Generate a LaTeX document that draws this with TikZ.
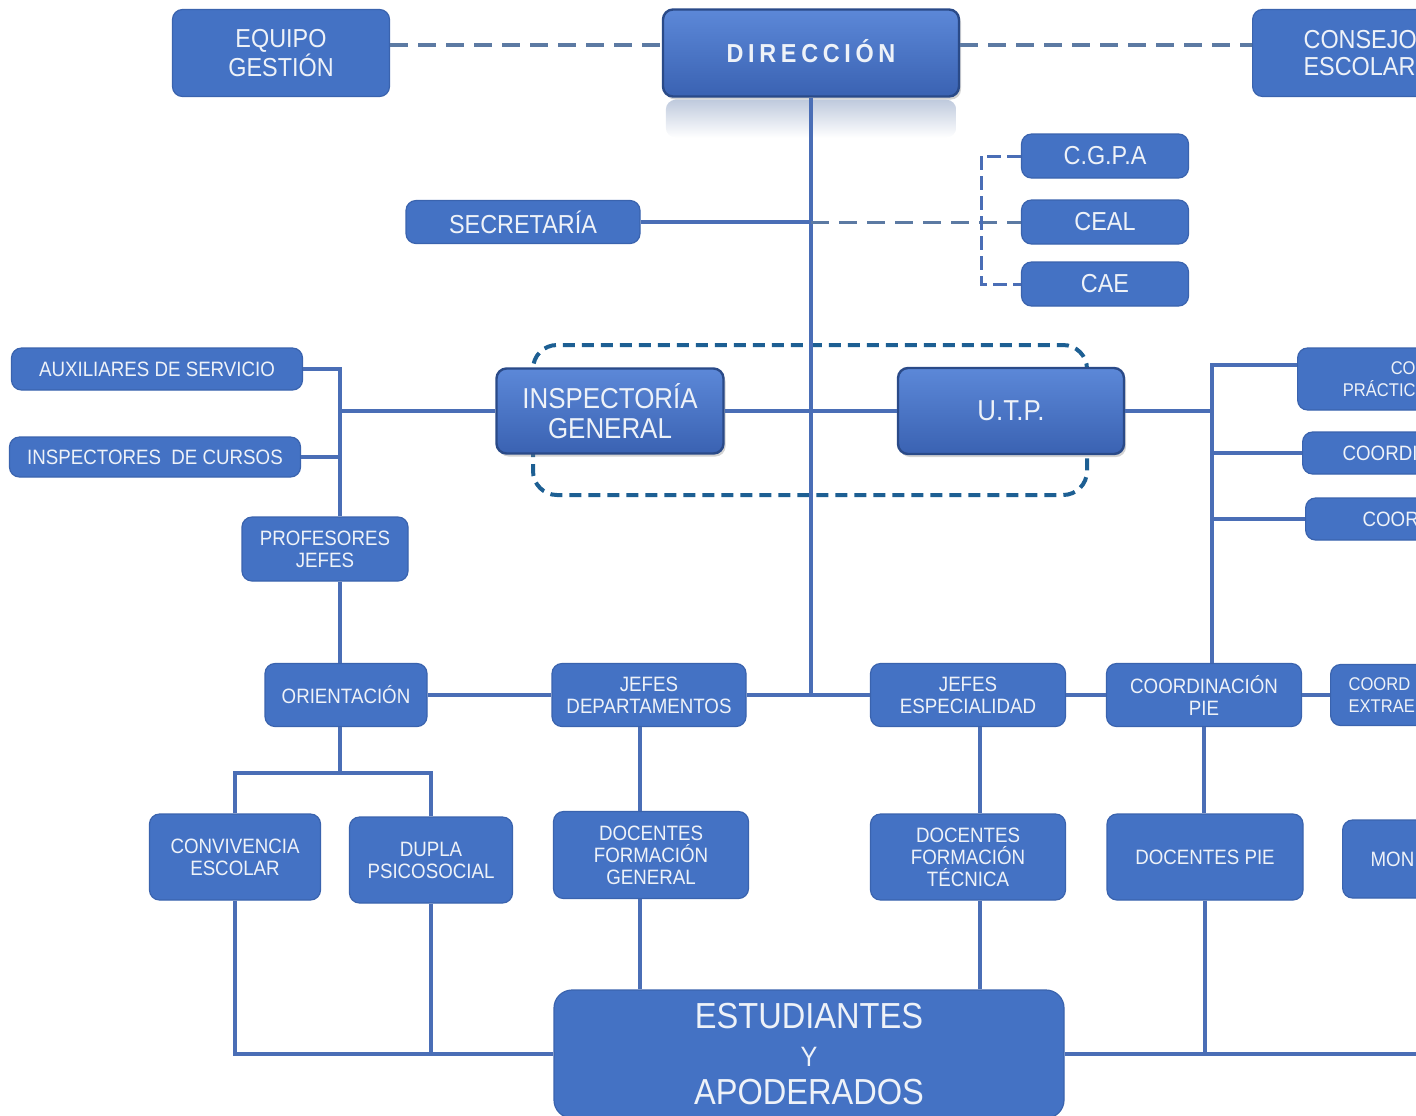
\documentclass[tikz,border=0pt]{standalone}
\usepackage{fontspec}
\setmainfont{Liberation Sans}[FakeStretch=0.9]
\newfontfamily\spacedfont{Liberation Sans}[FakeStretch=0.9,LetterSpace=18]
\usepackage{xcolor}
\usetikzlibrary{positioning,shadows,calc}
\definecolor{boxblue}{HTML}{4472C4}
\definecolor{boxedge}{HTML}{3A63AE}
\definecolor{boxtext}{HTML}{EEF2F8}
\definecolor{raisetop}{HTML}{5C88D8}
\definecolor{raisebot}{HTML}{3A62B2}
\definecolor{raiseedge}{HTML}{2A4A88}
\definecolor{linkblue}{HTML}{4A6EB6}
\definecolor{dashgrey}{HTML}{5C7AA3}
\definecolor{frameblue}{HTML}{1D5F93}
\definecolor{reflect}{HTML}{BFCADD}

\begin{document}
\begin{tikzpicture}[x=.5pt,y=-.5pt,
    box/.style={fill=boxblue, draw=boxedge, line width=.6pt, rounded corners=5pt, text=boxtext, align=center, inner sep=0pt},
    raised/.style={top color=raisetop, bottom color=raisebot, draw=raiseedge, line width=1.2pt,
      drop shadow={shadow xshift=1pt, shadow yshift=-1.5pt, opacity=.35}},
    smalltext/.style={font=\fontsize{10.4}{11}\selectfont},
    bigtext/.style={font=\fontsize{13}{13.5}\selectfont},
    link/.style={draw=linkblue, line width=2pt},
    dashlink/.style={draw=dashgrey, line width=2pt, dash pattern=on 9pt off 5pt},
    bracket/.style={draw=linkblue, line width=1.5pt, dash pattern=on 7pt off 3pt}]
  \useasboundingbox (0,0) rectangle (1416,1115);
  \clip (0,0) rectangle (1416,1115);

  \draw[frameblue, line width=2pt, dash pattern=on 6pt off 3.5pt, rounded corners=12pt] (533,345) rectangle (1087,495);

  \node[box,bigtext,minimum width=108.5pt,minimum height=43.5pt] (equipo) at (281,53) {EQUIPO\\GESTIÓN};
  \node[box,raised,minimum width=148pt,minimum height=43.5pt,font=\spacedfont\bfseries\fontsize{13}{15}\selectfont] (direccion) at (811,53) {\raisebox{2pt}{DIRECCIÓN}};
  \node[box,bigtext,anchor=west,minimum height=43.5pt,text width=80pt,align=left,inner xsep=25.5pt] (consejo) at (1252,53) {CONSEJO\\ESCOLAR};
  \shade[top color=reflect, bottom color=white, rounded corners=5pt] ([xshift=2pt,yshift=-1pt]direccion.south west) rectangle ([xshift=-2pt,yshift=-20pt]direccion.south east);

  \node[box,bigtext,minimum width=117pt,minimum height=21.5pt] (secretaria) at (523,222) {SECRETARÍA};
  \node[box,bigtext,minimum width=83.5pt,minimum height=22pt] (cgpa) at (1105,156) {C.G.P.A};
  \node[box,bigtext,minimum width=83.5pt,minimum height=22pt] (ceal) at (1105,222) {CEAL};
  \node[box,bigtext,minimum width=83.5pt,minimum height=22pt] (cae) at (1105,284) {CAE};

  \node[box,raised,minimum width=113.5pt,minimum height=42.5pt,font=\fontsize{14.4}{15}\selectfont] (inspectoria) at (610,411) {INSPECTORÍA\\GENERAL};
  \node[box,raised,minimum width=113pt,minimum height=43pt,font=\fontsize{14.4}{15}\selectfont] (utp) at (1011,411) {U.T.P.};

  \node[box,smalltext,minimum width=145.5pt,minimum height=21pt] (auxiliares) at (157,369) {AUXILIARES DE SERVICIO};
  \node[box,smalltext,minimum width=145.5pt,minimum height=20pt] (inspectores) at (155,457) {INSPECTORES~~DE CURSOS};
  \node[box,smalltext,minimum width=83pt,minimum height=32pt] (profesores) at (325,549) {PROFESORES\\JEFES};

  \node[box,font=\fontsize{9.2}{11}\selectfont,anchor=west,minimum height=31pt,text width=36.5pt,align=right,inner xsep=22.5pt] (practica) at (1297,379) {CO\\PRÁCTIC};
  \node[box,smalltext,anchor=west,minimum height=21pt,text width=60pt,align=left,inner xsep=20pt] (coordi) at (1302,453) {COORDI};
  \node[box,smalltext,anchor=west,minimum height=21pt,text width=60pt,align=left,inner xsep=28.5pt] (coor) at (1305,519) {COOR};

  \node[box,smalltext,minimum width=81pt,minimum height=31.5pt] (orientacion) at (346,695) {ORIENTACIÓN};
  \node[box,smalltext,minimum width=97pt,minimum height=31.5pt] (jefesdep) at (649,695) {JEFES\\DEPARTAMENTOS};
  \node[box,smalltext,minimum width=97.5pt,minimum height=31.5pt] (jefesesp) at (968,695) {JEFES\\ESPECIALIDAD};
  \node[box,smalltext,minimum width=97.5pt,minimum height=31.5pt] (coordpie) at (1204,695) {COORDINACIÓN\\PIE};
  \node[box,font=\fontsize{9.2}{11}\selectfont,anchor=west,minimum height=30.5pt,text width=80pt,align=left,inner xsep=9pt] (coordextra) at (1330,695) {COORD\\EXTRAE};

  \node[box,smalltext,minimum width=85.5pt,minimum height=43pt] (convivencia) at (235,857) {CONVIVENCIA\\ESCOLAR};
  \node[box,smalltext,minimum width=81.5pt,minimum height=43pt] (dupla) at (431,860) {DUPLA\\PSICOSOCIAL};
  \node[box,smalltext,minimum width=97.5pt,minimum height=43.5pt] (docgen) at (651,855) {DOCENTES\\FORMACIÓN\\GENERAL};
  \node[box,smalltext,minimum width=97.5pt,minimum height=43pt] (doctec) at (968,857) {DOCENTES\\FORMACIÓN\\TÉCNICA};
  \node[box,smalltext,minimum width=98pt,minimum height=43pt] (docpie) at (1205,857) {DOCENTES PIE};
  \node[box,smalltext,anchor=west,minimum height=39pt,text width=60pt,align=left,inner xsep=14pt] (mon) at (1342,859) {MON};

  \node[box,rounded corners=9pt,minimum width=255pt,minimum height=64pt,font=\fontsize{18.1}{18.8}\selectfont] (estudiantes) at (809,1054) {ESTUDIANTES\\{\fontsize{14}{14}\selectfont Y}\\APODERADOS};

  \coordinate (lv) at (340,369);
  \coordinate (rv) at (1212,365);
  \coordinate (ob) at (340,773);
  \coordinate (sj) at (811,222);
  \coordinate (brt) at (981,156);
  \coordinate (brb) at (981,284);

  \draw[dashlink] ([yshift=4pt]equipo.east) -- ([yshift=4pt]direccion.west);
  \draw[dashlink] ([yshift=4pt]direccion.east) -- ([yshift=4pt]consejo.west);
  \draw[link] (direccion) -- (direccion |- jefesdep);
  \draw[link] (secretaria) -- (sj);
  \draw[dashlink, line width=1.5pt] (sj) -- (ceal);
  \draw[bracket] (cgpa) -- (brt) -- (brb) -- (cae);

  \draw[link] (lv |- inspectoria) -- (inspectoria);
  \draw[link] (inspectoria) -- (utp);
  \draw[link] (utp) -- (rv |- utp);
  \draw[link] (auxiliares) -- (lv) -- (lv |- profesores.north);
  \draw[link] (inspectores) -- (lv |- inspectores);
  \draw[link] (lv |- profesores.south) -- (lv |- orientacion.north);
  \draw[link] (rv -| practica.west) -- (rv) -- (rv |- coordpie.north);
  \draw[link] (coordi) -- (rv |- coordi);
  \draw[link] (coor) -- (rv |- coor);

  \draw[link] (orientacion) -- (jefesdep);
  \draw[link] (jefesdep) -- (jefesesp);
  \draw[link] (jefesesp) -- (coordpie);
  \draw[link] (coordpie) -- (coordextra);

  \draw[link] (lv |- orientacion.south) -- (ob);
  \draw[link] (convivencia.north) |- (ob) -| (dupla.north);
  \draw[link] ([xshift=-4.5pt]jefesdep.south) -- ([xshift=-4.5pt]jefesdep.south |- docgen.north);
  \draw[link] ([xshift=6pt]jefesesp.south) -- ([xshift=6pt]jefesesp.south |- doctec.north);
  \draw[link] (coordpie) -- (coordpie |- docpie.north);

  \draw[link] (convivencia.south) |- (estudiantes);
  \draw[link] (dupla.south) -- (dupla.south |- estudiantes.west);
  \draw[link] ([xshift=-5.5pt]docgen.south) -- ([xshift=-5.5pt]docgen.south |- estudiantes.north);
  \draw[link] ([xshift=6pt]doctec.south) -- ([xshift=6pt]doctec.south |- estudiantes.north);
  \draw[link] (estudiantes) -- (estudiantes -| mon.east);
  \draw[link] (docpie) -- (docpie |- estudiantes);
\end{tikzpicture}
\end{document}
